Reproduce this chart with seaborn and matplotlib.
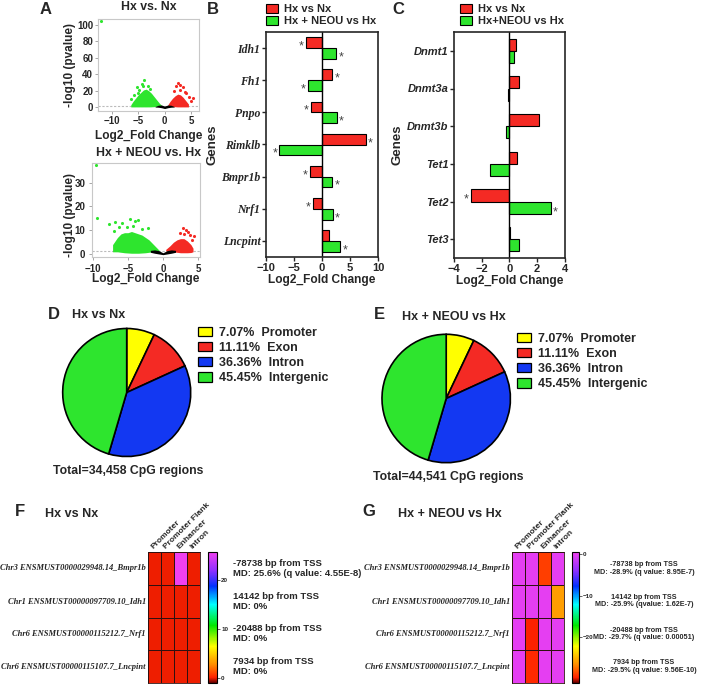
import numpy as np
import pandas as pd
import matplotlib.pyplot as plt
import seaborn as sns
from matplotlib.patches import Patch
from matplotlib.colors import LinearSegmentedColormap

sns.set_style('ticks')
plt.rcParams.update({
    'font.family': ['Liberation Sans', 'DejaVu Sans'],
    'font.weight': 'bold',
    'axes.labelweight': 'bold',
    'axes.titleweight': 'bold',
    'axes.linewidth': 1.2,
    'xtick.major.width': 1.0,
    'ytick.major.width': 1.0,
})

RED = '#f42a24'
GREEN = '#2ee52e'
YELLOW = '#ffff00'
BLUE = '#1338f2'
W, H = 716, 688

# ---------------- A: volcano plots ----------------
# dense clouds traced as envelopes (x, lower, upper), loose points listed
# Hx vs. Nx
a1_green_x = [-6.4, -6.0, -5.5, -5.0, -4.5, -4.0, -3.5, -3.0, -2.5, -2.0, -1.5, -1.0, -0.6]
a1_green_lo = [0.5, 0.5, 0.5, 0.5, 0.5, 0.5, 0.5, 0.5, 0.6, 0.8, 1.2, 1.6, 1.8]
a1_green_hi = [3, 7, 11, 15, 18, 21, 22, 20, 17, 13, 9, 5, 2.5]
a1_red_x = [0.6, 1.0, 1.5, 2.0, 2.5, 3.0, 3.5, 4.0, 4.5]
a1_red_lo = [1.8, 1.4, 1.0, 0.7, 0.5, 0.5, 0.5, 0.5, 0.5]
a1_red_hi = [3, 7, 11, 14, 16, 15, 12, 8, 4]
a1_ns_x = [-1.8, -1.2, -0.6, 0.0, 0.6, 1.2, 1.8]
a1_ns_lo = [0.3, 0.1, -0.5, -1.5, -0.5, 0.1, 0.3]
a1_ns_hi = [1.0, 2.5, 2.8, 1.5, 2.8, 2.5, 1.0]
a1_green_pts_x = [-12.0, -3.9, -5.3, -4.8, -5.7, -6.4, -3.1, -3.5, -4.3, -2.7, -5.0, -4.1]
a1_green_pts_y = [104, 33, 24, 20.7, 14.6, 9.8, 25.6, 18.7, 28, 22, 17, 26]
a1_red_pts_x = [2.6, 3.5, 4.1, 5.4, 2.2, 3.0, 4.6, 1.8, 2.9, 5.0, 3.8]
a1_red_pts_y = [30, 24, 17, 11, 26, 21, 13, 20, 27, 8, 19]

# Hx + NEOU vs. Hx
a2_green_x = [-7.2, -6.5, -6.0, -5.5, -5.0, -4.5, -4.0, -3.5, -3.0, -2.5, -2.0, -1.5, -1.0, -0.5]
a2_green_lo = [1.0, 1.0, 0.8, 0.6, 0.5, 0.4, 0.4, 0.4, 0.5, 0.6, 0.8, 1.1, 1.5, 1.4]
a2_green_hi = [4, 7, 8.5, 9, 9, 9.5, 9, 8.5, 8, 7, 6, 4.5, 3, 1.5]
a2_red_x = [0.4, 1.0, 1.5, 2.0, 2.5, 3.0, 3.5, 4.0, 4.3]
a2_red_lo = [1.4, 1.2, 1.0, 0.8, 0.6, 0.6, 0.6, 0.7, 1.0]
a2_red_hi = [2, 3.5, 5, 6, 6.5, 6.5, 5.5, 4, 2.5]
a2_ns_x = [-1.8, -1.2, -0.6, 0.0, 0.6, 1.2, 1.8]
a2_ns_lo = [0.8, 0.4, 0.1, -0.2, 0.1, 0.4, 0.8]
a2_ns_hi = [1.6, 1.8, 1.5, 0.6, 1.5, 1.8, 1.6]
a2_green_pts_x = [-9.5, -9.4, -7.7, -6.8, -5.8, -4.7, -4.0, -3.6, -2.2, -6.3, -5.2, -4.3, -3.0, -7.0]
a2_green_pts_y = [37.5, 15.3, 12.5, 13.4, 13.2, 14.8, 13.9, 14.3, 10.8, 11.3, 11.5, 11.8, 10.5, 9.5]
a2_red_pts_x = [2.8, 3.3, 3.8, 4.2, 2.4, 3.0, 4.4, 3.6]
a2_red_pts_y = [11, 10, 8, 6, 9, 8.5, 7.5, 9.2]

# ---------------- B / C: fold change bars ----------------
genes_b = ['Idh1', 'Fh1', 'Pnpo', 'Rimklb', 'Bmpr1b', 'Nrf1', 'Lncpint']
fc_hx_b = [-2.8, 1.8, -1.9, 7.8, -2.2, -1.6, 1.2]
fc_neou_b = [2.5, -2.5, 2.6, -7.6, 1.8, 1.9, 3.2]
sig_hx_b = [1, 1, 1, 1, 1, 1, 0]
sig_neou_b = [1, 1, 1, 1, 1, 1, 1]

genes_c = ['Dnmt1', 'Dnmt3a', 'Dnmt3b', 'Tet1', 'Tet2', 'Tet3']
fc_hx_c = [0.45, 0.65, 2.15, 0.53, -2.75, 0.07]
fc_neou_c = [0.36, -0.14, -0.24, -1.39, 2.97, 0.69]
sig_hx_c = [0, 0, 0, 0, 1, 0]
sig_neou_c = [0, 0, 0, 0, 1, 0]

# ---------------- D / E: CpG region pies ----------------
region_names = ['Promoter', 'Exon', 'Intron', 'Intergenic']
region_pct_d = [7.07, 11.11, 36.36, 45.45]
region_pct_e = [7.07, 11.11, 36.36, 45.45]

# ---------------- F / G: methylation difference heatmaps ----------------
hm_cols = ['Promoter', 'Promoter Flank', 'Enhancer', 'Intron']
hm_rows = ['Chr3 ENSMUST0000029948.14_Bmpr1b', 'Chr1 ENSMUST00000097709.10_Idh1',
           'Chr6 ENSMUST00000115212.7_Nrf1', 'Chr6 ENSMUST00000115107.7_Lncpint']
md_f = [[0, 0, 25.6, 0], [0, 0, 0, 0], [0, 0, 0, 0], [0, 0, 0, 0]]
md_g = [[0, 0, -28.9, 0], [0, 0, 0, -25.9], [0, -29.7, 0, 0], [0, -29.5, 0, 0]]
tss = ['-78738', '14142', '-20488', '7934']
note_f = ['MD: 25.6% (q value: 4.55E-8)', 'MD: 0%', 'MD: 0%', 'MD: 0%']
note_g = ['MD: -28.9% (q value: 8.95E-7)', 'MD: -25.9% (qvalue: 1.62E-7)',
          'MD: -29.7% (q value: 0.00051)', 'MD: -29.5% (q value: 9.56E-10)']


def box(x0, y0, x1, y1):
    return [x0 / W, 1 - y1 / H, (x1 - x0) / W, (y1 - y0) / H]


def fx(x):
    return x / W


def fy(y):
    return 1 - y / H


fig = plt.figure(figsize=(7.16, 6.88), dpi=100)


def volcano(ax, clouds, pts, xlim, ylim, xticks, yticks, tick_pad):
    for x, lo, hi, c in clouds:
        ax.fill_between(x, lo, hi, color=c, lw=0)
    for x, y, c in pts:
        sns.scatterplot(x=x, y=y, color=c, s=5, linewidth=0, ax=ax)
    ax.axhline(1.3, color='#bbbbbb', lw=0.8, ls=(0, (2, 1.5)), zorder=0)
    ax.set_xlim(xlim)
    ax.set_ylim(ylim)
    ax.set_xticks(xticks)
    ax.set_yticks(yticks)
    for sp in ax.spines.values():
        sp.set_color('#c8c8c8')
        sp.set_linewidth(0.8)
    ax.tick_params(labelsize=7, length=2, width=0.6, color='#999999', pad=tick_pad)
    ax.set_xlabel('Log2_Fold Change', fontsize=8.6)
    ax.set_ylabel('-log10 (pvalue)', fontsize=8.5)


ax_a1 = fig.add_axes(box(98, 19, 199, 110.7))
volcano(ax_a1,
        [(a1_green_x, a1_green_lo, a1_green_hi, GREEN), (a1_red_x, a1_red_lo, a1_red_hi, RED),
         (a1_ns_x, a1_ns_lo, a1_ns_hi, 'black')],
        [(a1_green_pts_x, a1_green_pts_y, GREEN), (a1_red_pts_x, a1_red_pts_y, RED)],
        (-12.6, 6.5), (-4.1, 106.9), [-10, -5, 0, 5], [0, 20, 40, 60, 80, 100], 1.5)
ax_a1.xaxis.set_label_coords(0.5, -0.21)
ax_a1.yaxis.set_label_coords((76 - 98) / 101, 0.5)

ax_a2 = fig.add_axes(box(92.3, 162.7, 200, 257.3))
volcano(ax_a2,
        [(a2_green_x, a2_green_lo, a2_green_hi, GREEN), (a2_red_x, a2_red_lo, a2_red_hi, RED),
         (a2_ns_x, a2_ns_lo, a2_ns_hi, 'black')],
        [(a2_green_pts_x, a2_green_pts_y, GREEN), (a2_red_pts_x, a2_red_pts_y, RED)],
        (-10.1, 5.3), (-1.3, 38.3), [-10, -5, 0, 5], [0, 10, 20, 30], 3)
ax_a2.xaxis.set_label_coords(0.5, -0.165)
ax_a2.yaxis.set_label_coords((76 - 92.3) / 107.7, 0.45)

fig.text(fx(148.5), fy(7.5), 'Hx vs. Nx', ha='center', va='center', fontsize=8.8)
fig.text(fx(148.5), fy(153), 'Hx + NEOU vs. Hx', ha='center', va='center', fontsize=8.8)


def bar_panel(ax, genes, v1, v2, s1, s2, lab1, lab2, xlim, xticks, star_off, width, serif, leg_x):
    df = pd.DataFrame({'gene': genes * 2, 'fc': v1 + v2,
                       'comparison': [lab1] * len(genes) + [lab2] * len(genes)})
    sns.barplot(data=df, x='fc', y='gene', hue='comparison', orient='h',
                palette=[RED, GREEN], saturation=1, width=width,
                edgecolor='black', linewidth=0.8, legend=False, ax=ax)
    ax.axvline(0, color='black', lw=1.0)
    for vals, sig, off in ((v1, s1, -width / 4), (v2, s2, width / 4)):
        for i, (v, s) in enumerate(zip(vals, sig)):
            if s:
                ax.text(v + np.sign(v) * star_off, i + off + 0.12, '*', ha='center', va='center',
                        fontsize=9, color='#444444', fontweight='normal')
    ax.set_xlim(xlim)
    ax.set_xticks(xticks)
    ax.set_ylim(len(genes) - 0.5, -0.5)
    ax.tick_params(axis='x', labelsize=8, length=3, pad=1)
    ax.tick_params(axis='y', length=3, pad=1)
    for lab in ax.get_yticklabels():
        if serif:
            lab.set_fontfamily(['Liberation Serif'])
            lab.set_fontsize(8.5)
        else:
            lab.set_fontsize(8)
        lab.set_fontstyle('italic')
        lab.set_fontweight('bold')
    ax.set_xlabel('Log2_Fold Change', fontsize=8.6)
    ax.set_ylabel('Genes', fontsize=9.5)
    fig.legend(handles=[Patch(facecolor=RED, edgecolor='black', lw=0.8, label=lab1),
                        Patch(facecolor=GREEN, edgecolor='black', lw=0.8, label=lab2)],
               loc='upper left', bbox_to_anchor=(fx(leg_x), fy(4)),
               bbox_transform=fig.transFigure, frameon=False, fontsize=8,
               handlelength=1.1, handleheight=0.9, handletextpad=0.5,
               labelspacing=0.1, borderpad=0, borderaxespad=0)


ax_b = fig.add_axes(box(266, 32, 378, 257))
bar_panel(ax_b, genes_b, fc_hx_b, fc_neou_b, sig_hx_b, sig_neou_b,
          'Hx vs Nx', 'Hx + NEOU vs Hx', (-10, 10), [-10, -5, 0, 5, 10], 0.85, 0.67, True, 266)
ax_b.xaxis.set_label_coords(0.5, -0.075)
ax_b.yaxis.set_label_coords((218 - 266) / 112, 0.5)

ax_c = fig.add_axes(box(454, 32, 565, 258))
bar_panel(ax_c, genes_c, fc_hx_c, fc_neou_c, sig_hx_c, sig_neou_c,
          'Hx vs Nx', 'Hx+NEOU vs Hx', (-4, 4), [-4, -2, 0, 2, 4], 0.35, 0.65, False, 460)
ax_c.xaxis.set_label_coords(0.5, -0.075)
ax_c.yaxis.set_label_coords((403 - 454) / 111, 0.5)


def pie_panel(rect, pct, leg_xy, total, total_xy, title, title_xy):
    ax = fig.add_axes(rect)
    ax.pie(pct, colors=[YELLOW, RED, BLUE, GREEN], startangle=90, counterclock=False,
           wedgeprops=dict(edgecolor='black', linewidth=1.2))
    ax.set_xlim(-1.02, 1.02)
    ax.set_ylim(-1.02, 1.02)
    ax.set_aspect('equal')
    handles = [Patch(facecolor=c, edgecolor='black', lw=0.9, label=f'{p:.2f}%  {n}')
               for c, p, n in zip([YELLOW, RED, BLUE, GREEN], pct, region_names)]
    fig.legend(handles=handles, loc='upper left', bbox_to_anchor=(fx(leg_xy[0]), fy(leg_xy[1])),
               bbox_transform=fig.transFigure, frameon=False, fontsize=9,
               handlelength=1.1, handleheight=0.75, handletextpad=0.6,
               labelspacing=0.25, borderpad=0, borderaxespad=0)
    fig.text(fx(total_xy[0]), fy(total_xy[1]), total, ha='left', va='center', fontsize=8.8)
    fig.text(fx(title_xy[0]), fy(title_xy[1]), title, ha='left', va='center', fontsize=9)


pie_panel(box(61.4, 327, 192, 458), region_pct_d, (198, 327),
          'Total=34,458 CpG regions', (53, 471), 'Hx vs Nx', (72, 314.5))
pie_panel(box(380.4, 333, 512, 464), region_pct_e, (517, 333),
          'Total=44,541 CpG regions', (373, 477), 'Hx + NEOU vs Hx', (402, 317.5))

cm_pos = [0, 0.04, 0.14, 0.28, 0.44, 0.6, 0.74, 0.86, 1]
cm_col = ['#6b0000', '#ff2200', '#ff8c00', '#ffff00', '#00e800', '#00ffff', '#0030ff', '#9030ff', '#f040f0']
md_cmap = LinearSegmentedColormap.from_list('md', list(zip(cm_pos, cm_col)))


def heat_panel(rect, crect, md, vmin, vmax, cticks, notes, note_x, note_ha, note_fs):
    ax = fig.add_axes(rect)
    cax = fig.add_axes(crect)
    sns.heatmap(np.array(md, dtype=float), ax=ax, cbar_ax=cax, cmap=md_cmap, vmin=vmin, vmax=vmax,
                linewidths=0.6, linecolor='#301010', xticklabels=hm_cols, yticklabels=hm_rows)
    for sp in ax.spines.values():
        sp.set_visible(True)
        sp.set_linewidth(0.6)
        sp.set_color('#301010')
    ax.xaxis.tick_top()
    ax.tick_params(length=0, pad=1.5)
    for lab in ax.get_xticklabels():
        lab.set_rotation(45)
        lab.set_ha('left')
        lab.set_va('bottom')
        lab.set_rotation_mode('anchor')
        lab.set_fontsize(6)
    for lab in ax.get_yticklabels():
        lab.set_rotation(0)
        lab.set_fontfamily(['Liberation Serif'])
        lab.set_fontstyle('italic')
        lab.set_fontweight('bold')
        lab.set_fontsize(6.1)
    cbar = ax.collections[0].colorbar
    cbar.set_ticks(cticks)
    cbar.outline.set_edgecolor('black')
    cbar.outline.set_linewidth(0.8)
    cax.tick_params(labelsize=4.5, length=2, width=0.5, pad=1)
    for i, (t, n) in enumerate(zip(tss, notes)):
        ax.text(note_x, i + 0.5, f'{t} bp from TSS\n{n}', ha=note_ha, va='center',
                fontsize=note_fs, linespacing=1.15, clip_on=False)
    return ax


heat_panel(box(148, 552, 200, 683), box(208, 552, 217, 683), md_f, -1, 25.6, [0, 10, 20],
           note_f, (233 - 148) / 13, 'left', 6.8)
heat_panel(box(512, 552, 564, 683), box(572, 552, 579, 683), md_g, -31, 0.5, [0, -10, -20],
           note_g, (644 - 512) / 13, 'center', 5.2)
fig.text(fx(45), fy(514), 'Hx vs Nx', ha='left', va='center', fontsize=9)
fig.text(fx(398), fy(514), 'Hx + NEOU vs Hx', ha='left', va='center', fontsize=9)

# panel letters
for letter, (x, y) in zip('ABCDEFG', [(46, 10), (213, 10), (398, 10), (54, 314.5),
                                       (379, 314.5), (20, 512), (369, 512)]):
    fig.text(fx(x), fy(y), letter, ha='center', va='center', fontsize=12)

fig.savefig('out.png', dpi=100)
